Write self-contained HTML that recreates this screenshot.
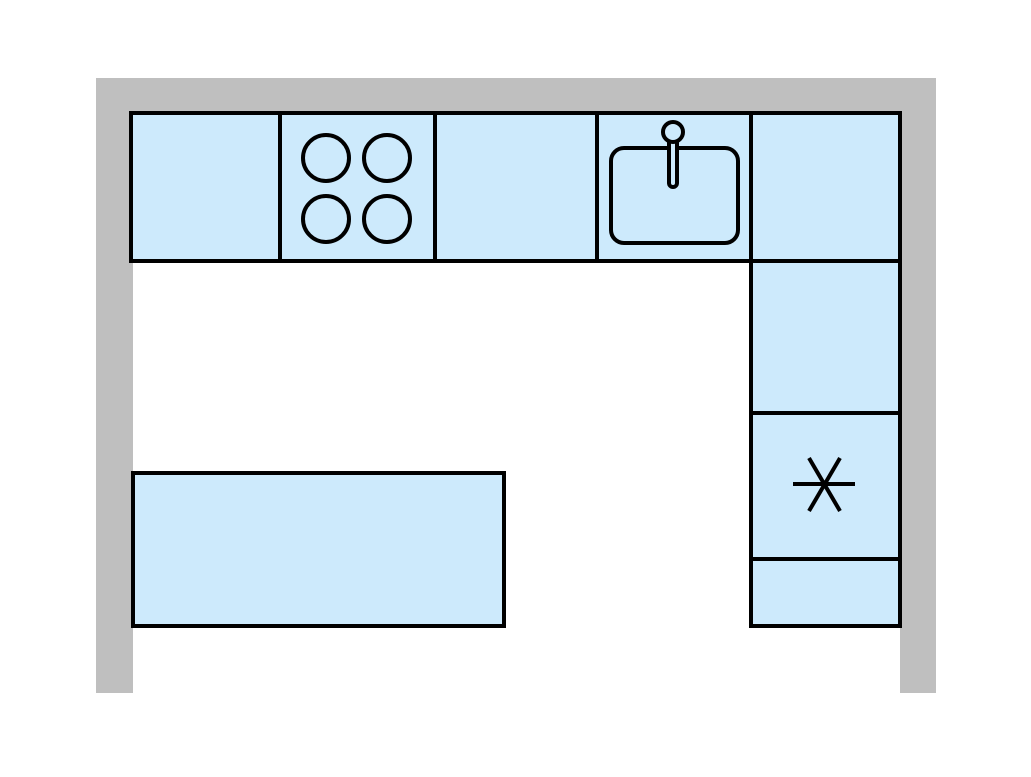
<!DOCTYPE html>
<html><head><style>body{margin:0;background:#fff}svg{display:block}</style></head><body>
<svg width="1031" height="777" viewBox="0 0 1031 777" xmlns="http://www.w3.org/2000/svg">
<rect x="96" y="78" width="840" height="36" fill="#bfbfbf"/>
<rect x="96" y="78" width="37" height="615" fill="#bfbfbf"/>
<rect x="900" y="78" width="36" height="615" fill="#bfbfbf"/>
<g fill="#cdeafc" stroke="#000" stroke-width="4">
<rect x="131" y="113" width="149" height="148"/>
<rect x="280" y="113" width="155" height="148"/>
<rect x="435" y="113" width="162" height="148"/>
<rect x="597" y="113" width="154" height="148"/>
<rect x="751" y="113" width="149" height="148"/>
<rect x="751" y="261" width="149" height="152"/>
<rect x="751" y="413" width="149" height="146"/>
<rect x="751" y="559" width="149" height="67"/>
<rect x="133" y="473" width="371" height="153"/>
<circle cx="326" cy="158" r="23"/><circle cx="387" cy="158" r="23"/>
<circle cx="326" cy="219" r="23"/><circle cx="387" cy="219" r="23"/>
<rect x="611" y="148" width="127" height="95" rx="13"/>
<rect x="669" y="126" width="8" height="61" rx="4"/>
<circle cx="673" cy="132" r="10"/>
</g>
<g stroke="#000" stroke-width="4">
<line x1="793" y1="484" x2="855" y2="484"/>
<line x1="809" y1="458" x2="840" y2="511"/>
<line x1="840" y1="458" x2="809" y2="511"/>
</g>
</svg>
</body></html>
